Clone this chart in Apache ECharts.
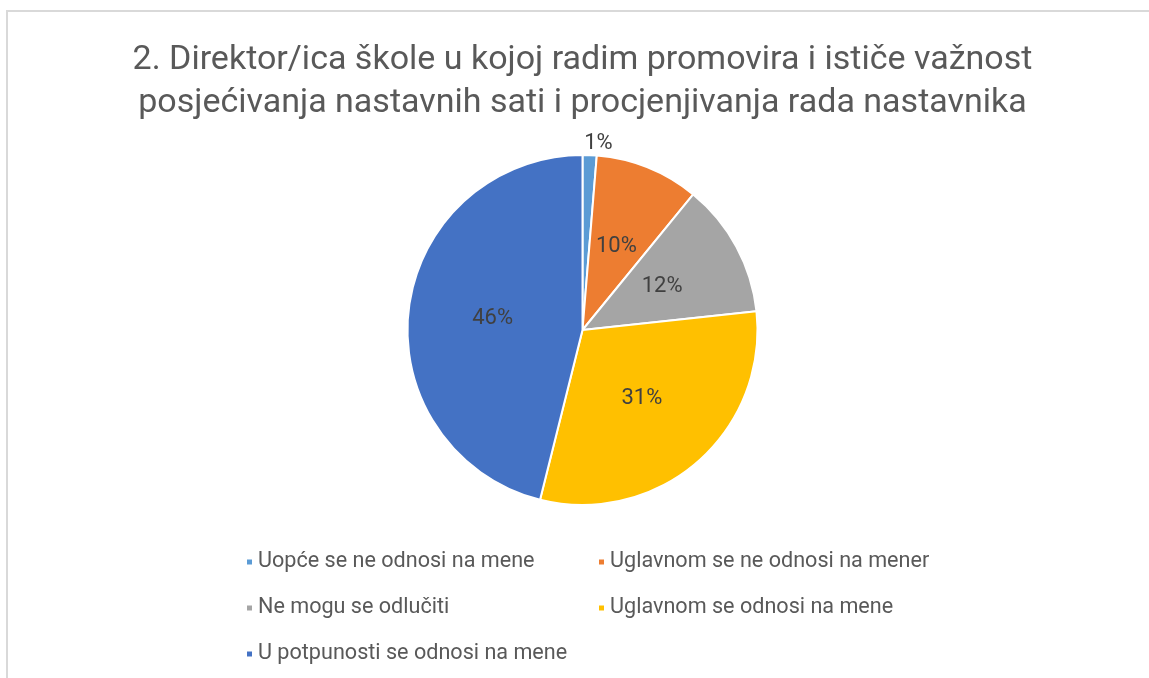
<!DOCTYPE html>
<html>
<head>
<meta charset="utf-8">
<script src="https://cdn.jsdelivr.net/npm/echarts@6/dist/echarts.min.js"></script>
<style>
  html, body { margin: 0; padding: 0; width: 1149px; height: 678px; overflow: hidden; background: #fff; }
  .frame { position: absolute; left: 6px; top: 10px; width: 1200px; height: 700px;
    border-left: 2px solid #d9d9d9; border-top: 2px solid #d9d9d9; }
  #chart { position: absolute; left: 8px; top: 0; width: 1149px; height: 678px; }
</style>
</head>
<body>
<div class="frame"></div>
<div id="chart"></div>
<script>
const TITLE = "2. Direktor/ica škole u kojoj radim promovira i ističe važnost\nposjećivanja nastavnih sati i procjenjivanja rada nastavnika";

const categories = [
  "Uopće se ne odnosi na mene",
  "Uglavnom se ne odnosi na mener",
  "Ne mogu se odlučiti",
  "Uglavnom se odnosi na mene",
  "U potpunosti se odnosi na mene"
];
const shares = [1.3, 9.6, 12.4, 30.6, 46.1];
const colors = ["#5B9BD5", "#ED7D31", "#A5A5A5", "#FFC000", "#4472C4"];

const FONT = "Roboto, 'Noto Sans', sans-serif";

const chart = echarts.init(document.getElementById("chart"), null, { renderer: "canvas" });

const data = categories.map((name, i) => {
  const item = { name, value: shares[i], itemStyle: { color: colors[i] } };
  // the smallest slice puts its label outside, as Excel's best fit does
  if (shares[i] < 3) {
    item.label = { position: "outside", distanceToLabelLine: -6 };
    item.labelLine = { show: false, length: 12, length2: 0 };
  }
  return item;
});

chart.setOption({
  animation: false,
  title: {
    text: TITLE,
    left: "center",
    top: 34,
    textStyle: {
      fontFamily: FONT,
      fontSize: 34,
      fontWeight: "normal",
      color: "#595959",
      lineHeight: 43
    }
  },
  legend: {
    left: 232,
    top: 539,
    width: 740,
    itemWidth: 7,
    itemHeight: 7,
    itemGap: 10,
    icon: "rect",
    textStyle: {
      fontFamily: FONT,
      fontSize: 21.6,
      color: "#595959",
      width: 329,
      lineHeight: 36
    }
  },
  series: [
    {
      type: "pie",
      center: ["50%", 330],
      radius: [0, 175],
      startAngle: 90,
      clockwise: true,
      itemStyle: { borderColor: "#fff", borderWidth: 2 },
      label: {
        show: true,
        position: "inside",
        fontFamily: FONT,
        fontSize: 22,
        color: "#404040",
        formatter: (p) => Math.round(p.percent) + "%"
      },
      labelLine: { show: false },
      emphasis: { disabled: true },
      data
    }
  ]
});
</script>
</body>
</html>
